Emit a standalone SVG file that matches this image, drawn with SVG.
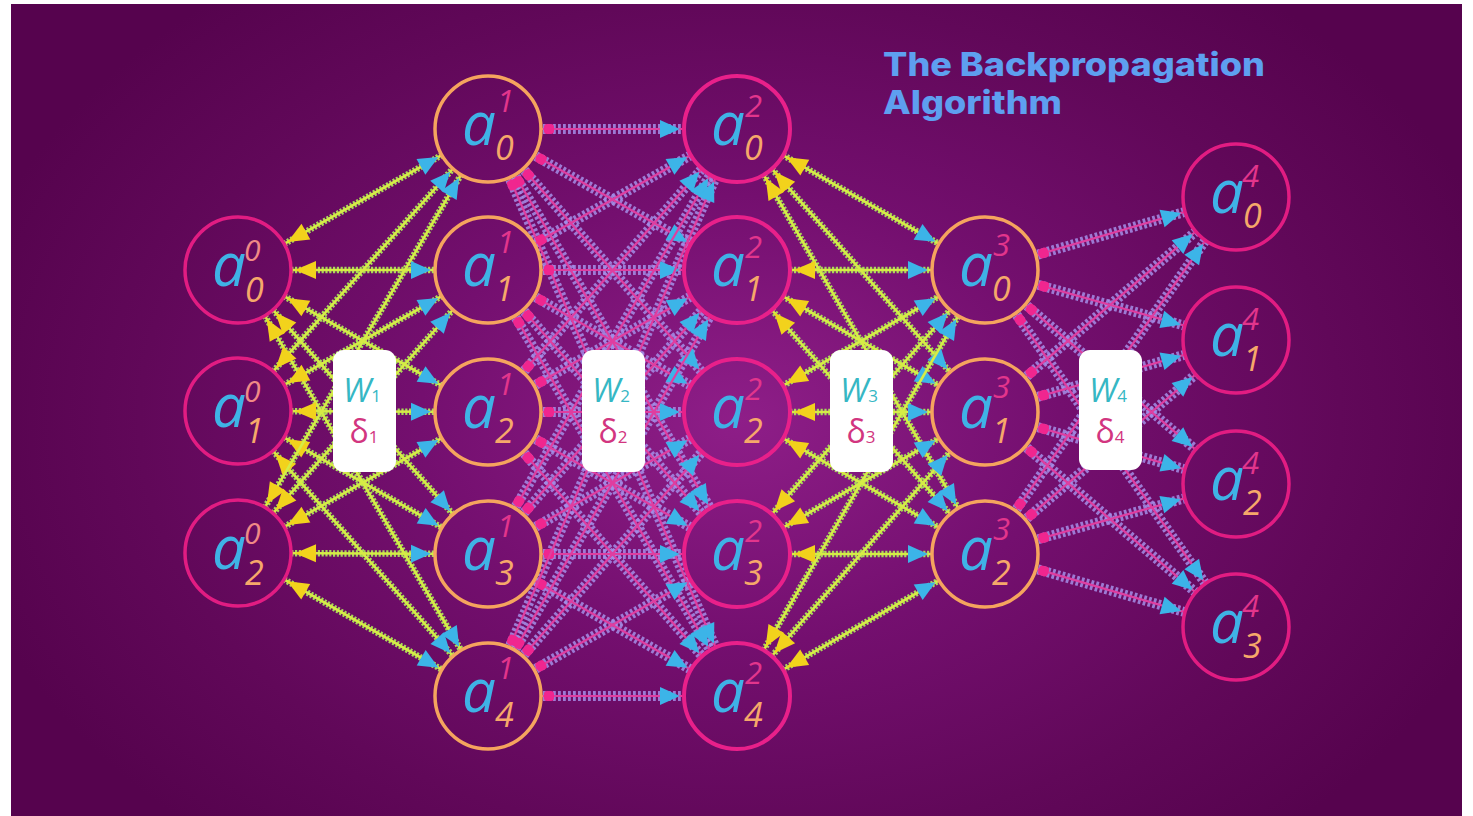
<svg xmlns="http://www.w3.org/2000/svg" width="1473" height="816" viewBox="0 0 1473 816">
<style>
.a{font-family:"Open Sans","DejaVu Sans",sans-serif;font-style:italic;font-size:60px;fill:#3fb2e6}
.sb{font-family:"Open Sans","DejaVu Sans",sans-serif;font-style:italic;font-size:34px;fill:#f6a86a}
.sp{font-family:"Open Sans","DejaVu Sans",sans-serif;font-style:italic;font-size:31px;fill:#e2358c}
.sp0{font-family:"Open Sans","DejaVu Sans",sans-serif;font-style:italic;font-size:30px;fill:#f08a86}
.pk{fill:url(#bg);stroke:#e11c82;stroke-width:3.5}
.pk2{fill:url(#bg);stroke:#e8208a;stroke-width:4}
.or{fill:url(#bg);stroke:#f5a45e;stroke-width:3.5}
.box{fill:#fff}
.wt{font-family:"Open Sans","DejaVu Sans",sans-serif;font-style:italic;font-size:33px;fill:#36b7c4;text-anchor:middle}
.dt{font-family:"Open Sans","DejaVu Sans",sans-serif;font-size:32px;fill:#d23580;text-anchor:middle}
.title{font-family:Inter,"DejaVu Sans",sans-serif;font-weight:800;font-size:32px;fill:#5e9ff0}
.y1{fill:none;stroke:#a9d85a;stroke-width:6.5;stroke-dasharray:2.2 1.6}
.y2{fill:none;stroke:#d6ec46;stroke-width:2.6;marker-start:url(#ys);marker-end:url(#ce)}
.p1{fill:none;stroke:#a48ee8;stroke-width:10;stroke-dasharray:2.8 2.2;opacity:.85}
.p2{fill:none;stroke:#df3ea0;stroke-width:2.2;marker-start:url(#ds);marker-end:url(#ce)}
</style>
<defs>
<radialGradient id="bg" gradientUnits="userSpaceOnUse" cx="740" cy="420" r="800" gradientTransform="translate(740 420) scale(1 0.7) translate(-740 -420)">
<stop offset="0" stop-color="#8e1e88"/>
<stop offset="0.4" stop-color="#740f6f"/>
<stop offset="0.75" stop-color="#610859"/>
<stop offset="1" stop-color="#56034e"/>
</radialGradient>
<marker id="ys" markerUnits="userSpaceOnUse" orient="auto" refX="-57" refY="0" markerWidth="1" markerHeight="1" overflow="visible"><path d="M0 0L21 -9L21 9Z" fill="#f2d21c"/></marker>
<marker id="ce" markerUnits="userSpaceOnUse" orient="auto" refX="57" refY="0" markerWidth="1" markerHeight="1" overflow="visible"><path d="M0 0L-20 -9L-20 9Z" fill="#3cb4e8"/></marker>
<marker id="ds" markerUnits="userSpaceOnUse" orient="auto" refX="-57" refY="0" markerWidth="1" markerHeight="1" overflow="visible"><rect x="-1" y="-5" width="10" height="10" rx="3" fill="#f0268f"/></marker>
</defs>
<rect x="11" y="4" width="1451" height="812" fill="url(#bg)"/>
<g id="connectors">
<g id="w2-lines">
<path class="p1" d="M488 129L737 129"/><path class="p1" d="M488 129L737 270"/><path class="p1" d="M488 129L737 412"/><path class="p1" d="M488 129L737 554"/><path class="p1" d="M488 129L737 696"/>
<path class="p1" d="M488 270L737 129"/><path class="p1" d="M488 270L737 270"/><path class="p1" d="M488 270L737 412"/><path class="p1" d="M488 270L737 554"/><path class="p1" d="M488 270L737 696"/>
<path class="p1" d="M488 412L737 129"/><path class="p1" d="M488 412L737 270"/><path class="p1" d="M488 412L737 412"/><path class="p1" d="M488 412L737 554"/><path class="p1" d="M488 412L737 696"/>
<path class="p1" d="M488 554L737 129"/><path class="p1" d="M488 554L737 270"/><path class="p1" d="M488 554L737 412"/><path class="p1" d="M488 554L737 554"/><path class="p1" d="M488 554L737 696"/>
<path class="p1" d="M488 696L737 129"/><path class="p1" d="M488 696L737 270"/><path class="p1" d="M488 696L737 412"/><path class="p1" d="M488 696L737 554"/><path class="p1" d="M488 696L737 696"/>
<path class="p2" d="M488 129L737 129"/><path class="p2" d="M488 129L737 270"/><path class="p2" d="M488 129L737 412"/><path class="p2" d="M488 129L737 554"/><path class="p2" d="M488 129L737 696"/>
<path class="p2" d="M488 270L737 129"/><path class="p2" d="M488 270L737 270"/><path class="p2" d="M488 270L737 412"/><path class="p2" d="M488 270L737 554"/><path class="p2" d="M488 270L737 696"/>
<path class="p2" d="M488 412L737 129"/><path class="p2" d="M488 412L737 270"/><path class="p2" d="M488 412L737 412"/><path class="p2" d="M488 412L737 554"/><path class="p2" d="M488 412L737 696"/>
<path class="p2" d="M488 554L737 129"/><path class="p2" d="M488 554L737 270"/><path class="p2" d="M488 554L737 412"/><path class="p2" d="M488 554L737 554"/><path class="p2" d="M488 554L737 696"/>
<path class="p2" d="M488 696L737 129"/><path class="p2" d="M488 696L737 270"/><path class="p2" d="M488 696L737 412"/><path class="p2" d="M488 696L737 554"/><path class="p2" d="M488 696L737 696"/>
</g>
<g id="w4-lines">
<path class="p1" d="M985 270L1236 197"/><path class="p1" d="M985 270L1236 340"/><path class="p1" d="M985 270L1236 484"/><path class="p1" d="M985 270L1236 627"/>
<path class="p1" d="M985 412L1236 197"/><path class="p1" d="M985 412L1236 340"/><path class="p1" d="M985 412L1236 484"/><path class="p1" d="M985 412L1236 627"/>
<path class="p1" d="M985 554L1236 197"/><path class="p1" d="M985 554L1236 340"/><path class="p1" d="M985 554L1236 484"/><path class="p1" d="M985 554L1236 627"/>
<path class="p2" d="M985 270L1236 197"/><path class="p2" d="M985 270L1236 340"/><path class="p2" d="M985 270L1236 484"/><path class="p2" d="M985 270L1236 627"/>
<path class="p2" d="M985 412L1236 197"/><path class="p2" d="M985 412L1236 340"/><path class="p2" d="M985 412L1236 484"/><path class="p2" d="M985 412L1236 627"/>
<path class="p2" d="M985 554L1236 197"/><path class="p2" d="M985 554L1236 340"/><path class="p2" d="M985 554L1236 484"/><path class="p2" d="M985 554L1236 627"/>
</g>
<g id="w1-lines">
<path class="y1" d="M238 270L488 129"/><path class="y1" d="M238 270L488 270"/><path class="y1" d="M238 270L488 412"/><path class="y1" d="M238 270L488 554"/><path class="y1" d="M238 270L488 696"/>
<path class="y1" d="M238 411L488 129"/><path class="y1" d="M238 411L488 270"/><path class="y1" d="M238 411L488 412"/><path class="y1" d="M238 411L488 554"/><path class="y1" d="M238 411L488 696"/>
<path class="y1" d="M238 553L488 129"/><path class="y1" d="M238 553L488 270"/><path class="y1" d="M238 553L488 412"/><path class="y1" d="M238 553L488 554"/><path class="y1" d="M238 553L488 696"/>
<path class="y2" d="M238 270L488 129"/><path class="y2" d="M238 270L488 270"/><path class="y2" d="M238 270L488 412"/><path class="y2" d="M238 270L488 554"/><path class="y2" d="M238 270L488 696"/>
<path class="y2" d="M238 411L488 129"/><path class="y2" d="M238 411L488 270"/><path class="y2" d="M238 411L488 412"/><path class="y2" d="M238 411L488 554"/><path class="y2" d="M238 411L488 696"/>
<path class="y2" d="M238 553L488 129"/><path class="y2" d="M238 553L488 270"/><path class="y2" d="M238 553L488 412"/><path class="y2" d="M238 553L488 554"/><path class="y2" d="M238 553L488 696"/>
</g>
<g id="w3-lines">
<path class="y1" d="M737 129L985 270"/><path class="y1" d="M737 129L985 412"/><path class="y1" d="M737 129L985 554"/>
<path class="y1" d="M737 270L985 270"/><path class="y1" d="M737 270L985 412"/><path class="y1" d="M737 270L985 554"/>
<path class="y1" d="M737 412L985 270"/><path class="y1" d="M737 412L985 412"/><path class="y1" d="M737 412L985 554"/>
<path class="y1" d="M737 554L985 270"/><path class="y1" d="M737 554L985 412"/><path class="y1" d="M737 554L985 554"/>
<path class="y1" d="M737 696L985 270"/><path class="y1" d="M737 696L985 412"/><path class="y1" d="M737 696L985 554"/>
<path class="y2" d="M737 129L985 270"/><path class="y2" d="M737 129L985 412"/><path class="y2" d="M737 129L985 554"/>
<path class="y2" d="M737 270L985 270"/><path class="y2" d="M737 270L985 412"/><path class="y2" d="M737 270L985 554"/>
<path class="y2" d="M737 412L985 270"/><path class="y2" d="M737 412L985 412"/><path class="y2" d="M737 412L985 554"/>
<path class="y2" d="M737 554L985 270"/><path class="y2" d="M737 554L985 412"/><path class="y2" d="M737 554L985 554"/>
<path class="y2" d="M737 696L985 270"/><path class="y2" d="M737 696L985 412"/><path class="y2" d="M737 696L985 554"/>
</g>
</g>
<g id="weights">
<g id="box-w1"><rect class="box" x="333" y="350" width="63" height="122" rx="11"/><text class="wt" x="362" y="402">W<tspan font-size="17" font-style="normal">1</tspan></text><text class="dt" x="364" y="443">δ<tspan font-size="17">1</tspan></text></g>
<g id="box-w2"><rect class="box" x="582" y="350" width="63" height="122" rx="11"/><text class="wt" x="611" y="402">W<tspan font-size="17" font-style="normal">2</tspan></text><text class="dt" x="613" y="443">δ<tspan font-size="17">2</tspan></text></g>
<g id="box-w3"><rect class="box" x="830" y="350" width="63" height="122" rx="11"/><text class="wt" x="859" y="402">W<tspan font-size="17" font-style="normal">3</tspan></text><text class="dt" x="861" y="443">δ<tspan font-size="17">3</tspan></text></g>
<g id="box-w4"><rect class="box" x="1079" y="350" width="63" height="120" rx="11"/><text class="wt" x="1108" y="402">W<tspan font-size="17" font-style="normal">4</tspan></text><text class="dt" x="1110" y="443">δ<tspan font-size="17">4</tspan></text></g>
</g>
<g id="layer0">
<g id="a0_0"><circle class="pk" cx="238" cy="270" r="53"/><text class="a" x="212" y="286">a</text><text class="sb" x="245" y="302">0</text><text class="sp0" x="244" y="261">0</text></g>
<g id="a1_0"><circle class="pk" cx="238" cy="411" r="53"/><text class="a" x="212" y="427">a</text><text class="sb" x="245" y="443">1</text><text class="sp0" x="244" y="402">0</text></g>
<g id="a2_0"><circle class="pk" cx="238" cy="553" r="53"/><text class="a" x="212" y="569">a</text><text class="sb" x="245" y="585">2</text><text class="sp0" x="244" y="544">0</text></g>
</g>
<g id="layer1">
<g id="a0_1"><circle class="or" cx="488" cy="129" r="53"/><text class="a" x="462" y="145">a</text><text class="sb" x="495" y="160">0</text><text class="sp" x="497" y="112">1</text></g>
<g id="a1_1"><circle class="or" cx="488" cy="270" r="53"/><text class="a" x="462" y="286">a</text><text class="sb" x="495" y="301">1</text><text class="sp" x="497" y="253">1</text></g>
<g id="a2_1"><circle class="or" cx="488" cy="412" r="53"/><text class="a" x="462" y="428">a</text><text class="sb" x="495" y="443">2</text><text class="sp" x="497" y="395">1</text></g>
<g id="a3_1"><circle class="or" cx="488" cy="554" r="53"/><text class="a" x="462" y="570">a</text><text class="sb" x="495" y="585">3</text><text class="sp" x="497" y="537">1</text></g>
<g id="a4_1"><circle class="or" cx="488" cy="696" r="53"/><text class="a" x="462" y="712">a</text><text class="sb" x="495" y="727">4</text><text class="sp" x="497" y="679">1</text></g>
</g>
<g id="layer2">
<g id="a0_2"><circle class="pk2" cx="737" cy="129" r="53"/><text class="a" x="711" y="145">a</text><text class="sb" x="744" y="160">0</text><text class="sp" x="745" y="117">2</text></g>
<g id="a1_2"><circle class="pk2" cx="737" cy="270" r="53"/><text class="a" x="711" y="286">a</text><text class="sb" x="744" y="301">1</text><text class="sp" x="745" y="258">2</text></g>
<g id="a2_2"><circle class="pk2" cx="737" cy="412" r="53"/><text class="a" x="711" y="428">a</text><text class="sb" x="744" y="443">2</text><text class="sp" x="745" y="400">2</text></g>
<g id="a3_2"><circle class="pk2" cx="737" cy="554" r="53"/><text class="a" x="711" y="570">a</text><text class="sb" x="744" y="585">3</text><text class="sp" x="745" y="542">2</text></g>
<g id="a4_2"><circle class="pk2" cx="737" cy="696" r="53"/><text class="a" x="711" y="712">a</text><text class="sb" x="744" y="727">4</text><text class="sp" x="745" y="684">2</text></g>
</g>
<g id="layer3">
<g id="a0_3"><circle class="or" cx="985" cy="270" r="53"/><text class="a" x="959" y="286">a</text><text class="sb" x="992" y="301">0</text><text class="sp" x="993" y="256">3</text></g>
<g id="a1_3"><circle class="or" cx="985" cy="412" r="53"/><text class="a" x="959" y="428">a</text><text class="sb" x="992" y="443">1</text><text class="sp" x="993" y="398">3</text></g>
<g id="a2_3"><circle class="or" cx="985" cy="554" r="53"/><text class="a" x="959" y="570">a</text><text class="sb" x="992" y="585">2</text><text class="sp" x="993" y="540">3</text></g>
</g>
<g id="layer4">
<g id="a0_4"><circle class="pk" cx="1236" cy="197" r="53"/><text class="a" x="1210" y="213">a</text><text class="sb" x="1243" y="228">0</text><text class="sp" x="1242" y="187">4</text></g>
<g id="a1_4"><circle class="pk" cx="1236" cy="340" r="53"/><text class="a" x="1210" y="356">a</text><text class="sb" x="1243" y="371">1</text><text class="sp" x="1242" y="330">4</text></g>
<g id="a2_4"><circle class="pk" cx="1236" cy="484" r="53"/><text class="a" x="1210" y="500">a</text><text class="sb" x="1243" y="515">2</text><text class="sp" x="1242" y="474">4</text></g>
<g id="a3_4"><circle class="pk" cx="1236" cy="627" r="53"/><text class="a" x="1210" y="643">a</text><text class="sb" x="1243" y="658">3</text><text class="sp" x="1242" y="617">4</text></g>
</g>
<g id="title">
<text class="title" x="883" y="76" textLength="382" lengthAdjust="spacingAndGlyphs">The Backpropagation</text>
<text class="title" x="883" y="114" textLength="179" lengthAdjust="spacingAndGlyphs">Algorithm</text>
</g>
</svg>
